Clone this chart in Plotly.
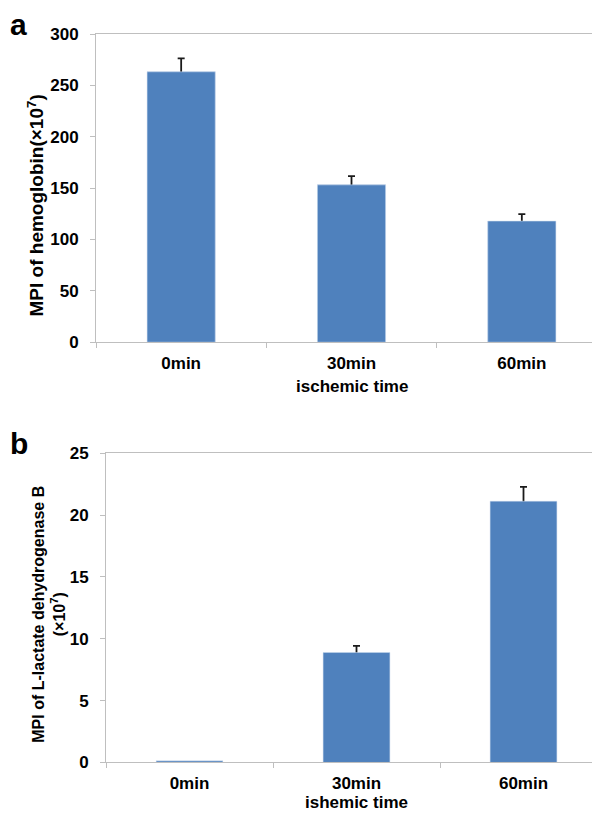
import plotly.graph_objects as go

categories = ["0min", "30min", "60min"]
hemoglobin = [263.3, 153.2, 118.0]
hemoglobin_err = [13.0, 8.5, 6.7]
ldhb = [0.13, 8.89, 21.12]
ldhb_err = [None, 0.53, 1.16]
a_ticks = [0, 50, 100, 150, 200, 250, 300]
b_ticks = [0, 5, 10, 15, 20, 25]

W, H = 600, 814
BAR = "#4F81BD"
LINE = "#BFBFBF"
FONT = "Liberation Sans, Arial, sans-serif"


def fx(p):
    return p / W


def fy(p):
    return 1 - p / H


def err_y(errs):
    return dict(type="data", array=[e if e is not None else 0 for e in errs],
                symmetric=True, color="#1a1a1a", thickness=1.8, width=3.5)


fig = go.Figure()
# error bars first (symmetric); the bars drawn over them hide the lower half
fig.add_trace(go.Bar(x=categories,
                     y=[v if e is not None else None for v, e in zip(hemoglobin, hemoglobin_err)],
                     marker_color=BAR, width=0.4, error_y=err_y(hemoglobin_err),
                     xaxis="x", yaxis="y", showlegend=False, hoverinfo="skip"))
fig.add_trace(go.Bar(x=categories, y=hemoglobin, marker_color=BAR, width=0.4,
                     xaxis="x", yaxis="y", showlegend=False))
fig.add_trace(go.Bar(x=categories,
                     y=[v if e is not None else None for v, e in zip(ldhb, ldhb_err)],
                     marker_color=BAR, width=0.4, error_y=err_y(ldhb_err),
                     xaxis="x2", yaxis="y2", showlegend=False, hoverinfo="skip"))
fig.add_trace(go.Bar(x=categories, y=ldhb, marker_color=BAR, width=0.4,
                     xaxis="x2", yaxis="y2", showlegend=False))

tickfont = dict(family=FONT, size=17, color="black", weight="bold")
common_x = dict(type="category", showline=True, linecolor=LINE, linewidth=1, mirror=True,
                ticks="outside", tickson="boundaries", ticklen=5, tickcolor=LINE,
                showgrid=False, zeroline=False, tickfont=tickfont, ticklabelstandoff=5)
common_y = dict(showline=True, linecolor=LINE, linewidth=1, mirror=True,
                ticks="outside", ticklen=5, tickcolor=LINE, showgrid=False, zeroline=False,
                tickfont=tickfont, ticklabelstandoff=8)

fig.update_layout(
    width=W, height=H, autosize=False,
    margin=dict(l=0, r=0, t=0, b=0),
    plot_bgcolor="white", paper_bgcolor="white",
    barmode="overlay",
    xaxis=dict(domain=[fx(88), fx(599)], anchor="y", **common_x),
    yaxis=dict(domain=[fy(333), fy(17.5)], anchor="x", range=[0, 300],
               tickvals=a_ticks, **common_y),
    xaxis2=dict(domain=[fx(98), fx(599)], anchor="y2", **common_x),
    yaxis2=dict(domain=[fy(763.3), fy(446.7)], anchor="x2", range=[0, 25],
                tickvals=b_ticks, **common_y),
)

annfont = dict(family=FONT, size=17, color="black", weight="bold")
anns = [
    dict(text="a", x=fx(0), y=fy(8), xanchor="left", yanchor="middle",
         font=dict(family=FONT, size=30, color="black", weight="bold")),
    dict(text="b", x=fx(0), y=fy(437), xanchor="left", yanchor="middle",
         font=dict(family=FONT, size=30, color="black", weight="bold")),
    dict(text="MPI of hemoglobin(×10<sup>7</sup>)", x=fx(28), y=fy(193), textangle=-90,
         xanchor="center", yanchor="middle",
         font=dict(family=FONT, size=19, color="black", weight="bold")),
    dict(text="MPI of L-lactate dehydrogenase B<br>(×10<sup>7</sup>)", x=fx(41), y=fy(612),
         textangle=-90, xanchor="center", yanchor="middle",
         font=dict(family=FONT, size=16, color="black", weight="bold")),
    dict(text="ischemic time", x=fx(343.5), y=fy(378), xanchor="center", yanchor="middle",
         font=annfont),
    dict(text="ishemic time", x=fx(348.5), y=fy(804), xanchor="center", yanchor="middle",
         font=annfont),
]
for a in anns:
    a.update(xref="paper", yref="paper", showarrow=False)
fig.update_layout(annotations=anns)

fig.write_html("out.html", config={"displayModeBar": False})
